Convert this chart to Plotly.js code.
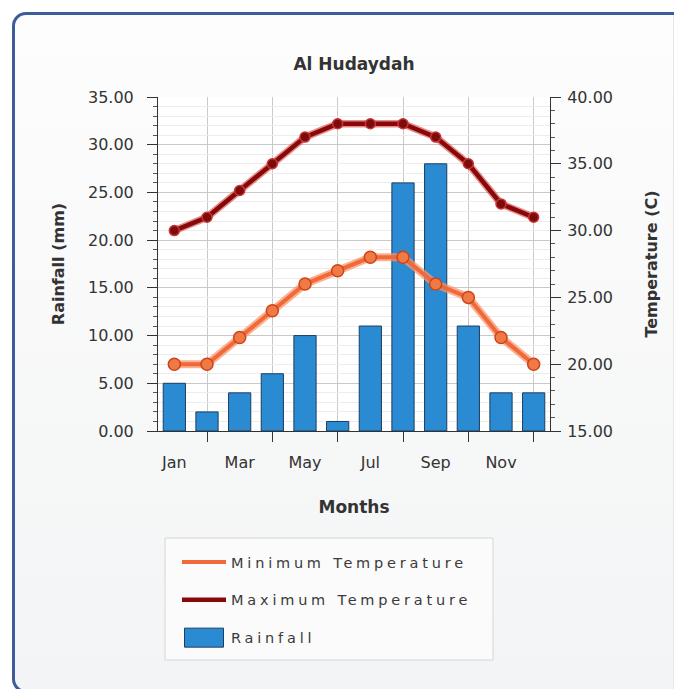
<!DOCTYPE html>
<html>
<head>
<meta charset="utf-8">
<script src="https://cdn.plot.ly/plotly-3.0.1.min.js"></script>
<style>
  html, body { margin: 0; padding: 0; width: 687px; height: 689px; overflow: hidden; background: #ffffff; }
  #clip { position: absolute; left: 12px; top: 12px; width: 662px; height: 681px; overflow: hidden; }
  #bg { position: absolute; left: 0; top: 0; width: 720px; height: 681px; box-sizing: border-box;
        border: 3px solid #3d5c9b; border-radius: 14px;
        background: linear-gradient(#fdfdfd, #f3f4f5); }
  #edge { position: absolute; left: 673px; top: 15px; width: 1px; height: 674px; background: #e4e9e4; }
  #chart { position: absolute; left: 0; top: 0; width: 687px; height: 689px; }
  .legendtext { letter-spacing: 3.8px; }
</style>
</head>
<body>
<div id="clip"><div id="bg"></div></div>
<div id="edge"></div>
<div id="chart"></div>
<script>
const months = ['Jan','Feb','Mar','Apr','May','Jun','Jul','Aug','Sep','Oct','Nov','Dec'];
const rainfall = [5, 2, 4, 6, 10, 1, 11, 26, 28, 11, 4, 4];
const maxTemp = [30, 31, 33, 35, 37, 38, 38, 38, 37, 35, 32, 31];
const minTemp = [20, 20, 22, 24, 26, 27, 28, 28, 26, 25, 22, 20];
const xTickLabels = ['Jan','Mar','May','Jul','Sep','Nov'];
const seriesNames = ['Minimum Temperature', 'Maximum Temperature', 'Rainfall'];

const xIdx = months.map((m, i) => i);
const font = 'DejaVu Sans, Verdana, sans-serif';
const txt = '#333333';

const traces = [
  { type: 'bar', x: xIdx, y: rainfall, name: seriesNames[2], yaxis: 'y', width: 0.68,
    marker: { color: '#2b8bd2', line: { color: '#1b3e63', width: 1 } },
    legendrank: 3, legendgroup: 'c', hoverinfo: 'skip' },
  // min temp glow, line, markers
  { type: 'scatter', mode: 'lines', x: xIdx, y: minTemp, yaxis: 'y2', showlegend: false,
    line: { color: 'rgba(250,150,110,0.75)', width: 8 }, hoverinfo: 'skip' },
  { type: 'scatter', mode: 'lines', x: xIdx, y: minTemp, yaxis: 'y2', name: seriesNames[0],
    line: { color: '#ef6a38', width: 4 }, legendrank: 1, legendgroup: 'a', hoverinfo: 'skip' },
  { type: 'scatter', mode: 'markers', x: xIdx, y: minTemp, yaxis: 'y2', showlegend: false,
    marker: { symbol: 'circle', size: 12, color: '#f07a45', line: { color: '#cc4418', width: 1.5 } }, hoverinfo: 'skip' },
  // max temp glow, line, markers
  { type: 'scatter', mode: 'lines', x: xIdx, y: maxTemp, yaxis: 'y2', showlegend: false,
    line: { color: 'rgba(220,60,60,0.6)', width: 7.5 }, hoverinfo: 'skip' },
  { type: 'scatter', mode: 'lines', x: xIdx, y: maxTemp, yaxis: 'y2', name: seriesNames[1],
    line: { color: '#860808', width: 4.5 }, legendrank: 2, legendgroup: 'b', hoverinfo: 'skip' },
  { type: 'scatter', mode: 'markers', x: xIdx, y: maxTemp, yaxis: 'y2', showlegend: false,
    marker: { symbol: 'circle', size: 10, color: '#7c0c0c', line: { color: '#c83434', width: 1.5 } }, hoverinfo: 'skip' }
];

const L = 158, R = 550, T = 97, B = 431, W = 687, H = 689;
const pw = R - L, ph = B - T;
const px2x = p => (p - L) / pw;
const px2y = p => (B - p) / ph;

const layout = {
  width: W, height: H,
  margin: { l: L, r: W - R, t: T, b: H - B, pad: 0 },
  paper_bgcolor: 'rgba(0,0,0,0)',
  plot_bgcolor: '#ffffff',
  font: { family: font, color: txt, size: 16 },
  showlegend: true,
  title: { text: '<b>Al Hudaydah</b>', font: { family: font, size: 17, color: txt },
           xref: 'paper', x: 0.5, xanchor: 'center', yref: 'container', y: 1 - 64 / H, yanchor: 'middle' },
  xaxis: {
    range: [-0.5, 11.5], fixedrange: true, zeroline: false,
    tickmode: 'array', tickvals: xTickLabels.map(l => months.indexOf(l)), ticktext: xTickLabels,
    ticks: '', showgrid: false, ticklabelstandoff: 17,
    tickfont: { family: font, size: 16, color: txt },
    showline: true, linecolor: '#333', linewidth: 1,
    minor: { tickmode: 'linear', tick0: 1, dtick: 2, ticks: 'outside', ticklen: 10, tickcolor: '#333', tickwidth: 1,
             showgrid: true, gridcolor: '#c9c9c9', gridwidth: 1 },
    title: { text: '<b>Months</b>', font: { family: font, size: 17, color: txt }, standoff: 29 }
  },
  yaxis: {
    range: [0, 35], dtick: 5, tick0: 0, tickformat: '.2f', fixedrange: true, zeroline: false,
    ticks: 'outside', ticklen: 10, tickcolor: '#333', tickwidth: 1, ticklabelstandoff: 10,
    tickfont: { family: font, size: 16, color: txt },
    showline: true, linecolor: '#333', linewidth: 1,
    showgrid: true, gridcolor: '#c9c9c9', gridwidth: 1,
    minor: { dtick: 1, ticks: 'outside', ticklen: 4, tickcolor: '#555', showgrid: true, gridcolor: '#ececec' },
    title: { text: '<b>Rainfall (mm)</b>', font: { family: font, size: 16, color: txt }, standoff: 19 }
  },
  yaxis2: {
    range: [15, 40], dtick: 5, tick0: 15, tickformat: '.2f', overlaying: 'y', side: 'right', fixedrange: true, zeroline: false,
    ticks: 'outside', ticklen: 10, tickcolor: '#333', tickwidth: 1, ticklabelstandoff: 3,
    tickfont: { family: font, size: 16, color: txt },
    showline: true, linecolor: '#333', linewidth: 1, showgrid: false,
    minor: { dtick: 1, ticks: 'outside', ticklen: 4, tickcolor: '#555', showgrid: false },
    title: { text: '<b>Temperature (C)</b>', font: { family: font, size: 16, color: txt }, standoff: 33 }
  },
  legend: {
    x: px2x(177), y: px2y(546), xanchor: 'left', yanchor: 'top',
    bgcolor: 'rgba(0,0,0,0)', borderwidth: 0,
    font: { family: font, size: 14.5, color: '#3a3a3a' },
    traceorder: 'grouped', tracegroupgap: 16, itemwidth: 44
  },
  shapes: [
    { type: 'rect', xref: 'paper', yref: 'paper', layer: 'below',
      x0: px2x(165), x1: px2x(493), y0: px2y(660), y1: px2y(538),
      fillcolor: '#fbfbfb', line: { color: '#d6d6d6', width: 1 } }
  ]
};

Plotly.newPlot('chart', traces, layout, { displayModeBar: false, staticPlot: true }).then(gd => {
  // enlarge the bar swatch in the legend to match the wide rectangle of the reference
  gd.querySelectorAll('.legend .legendpoints path').forEach(p => {
    const d = p.getAttribute('d') || '';
    if (d.replace(/\s/g, '') === 'M6,6H-6V-6H6Z') {
      p.setAttribute('d', 'M19.5,9.5H-19.5V-9.5H19.5Z');
    }
  });
});
</script>
</body>
</html>
